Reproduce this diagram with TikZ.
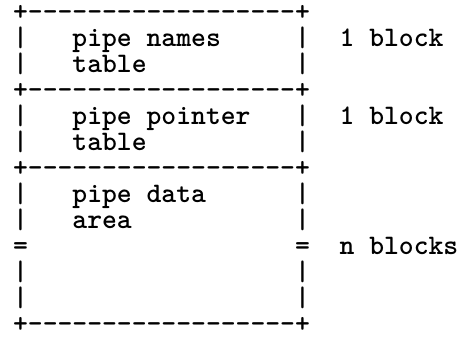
\documentclass[tikz,border=0pt]{standalone}
\usepackage{tikz}
\usetikzlibrary{positioning}

\newcommand\tapefont{\ttfamily\bfseries\fontsize{12}{14}\selectfont}
\newlength\colw

\begin{document}
\settowidth{\colw}{\tapefont x}
\begin{tikzpicture}[
    x=\colw, y=-1.752\colw,
    glyph/.style={anchor=base west, inner sep=0pt, font=\tapefont}
]
\useasboundingbox (-0.85,-0.77) rectangle (30.55,12.19);

% edges of the three blocks
\foreach \r/\nm in {0/top, 3/namesbot, 6/ptrbot, 12/bottom} {
  \node[glyph] (\nm-l) at (0,\r) {+};
  \foreach \c in {1,...,18}
    \node[glyph] (\nm-\c) at (\c,\r) {-};
  \node[glyph] (\nm-r) at (19,\r) {+};
}

% side bars
\foreach \r in {1,2,4,5,7,8,10,11} {
  \node[glyph] (barl-\r) at (0,\r) {|};
  \node[glyph] (barr-\r) at (19,\r) {|};
}
\node[glyph] (breakl) at (0,9) {=};
\node[glyph] (breakr) at (19,9) {=};

% block contents
\node[glyph] (names) at (4,1) {pipe names};
\node[glyph] (namestab) at (4,2) {table};
\node[glyph] (ptr) at (4,4) {pipe pointer};
\node[glyph] (ptrtab) at (4,5) {table};
\node[glyph] (data) at (4,7) {pipe data};
\node[glyph] (dataarea) at (4,8) {area};

% sizes
\node[glyph] (namessize) at (22,1) {1 block};
\node[glyph] (ptrsize) at (22,4) {1 block};
\node[glyph] (datasize) at (22,9) {n blocks};

\end{tikzpicture}
\end{document}
